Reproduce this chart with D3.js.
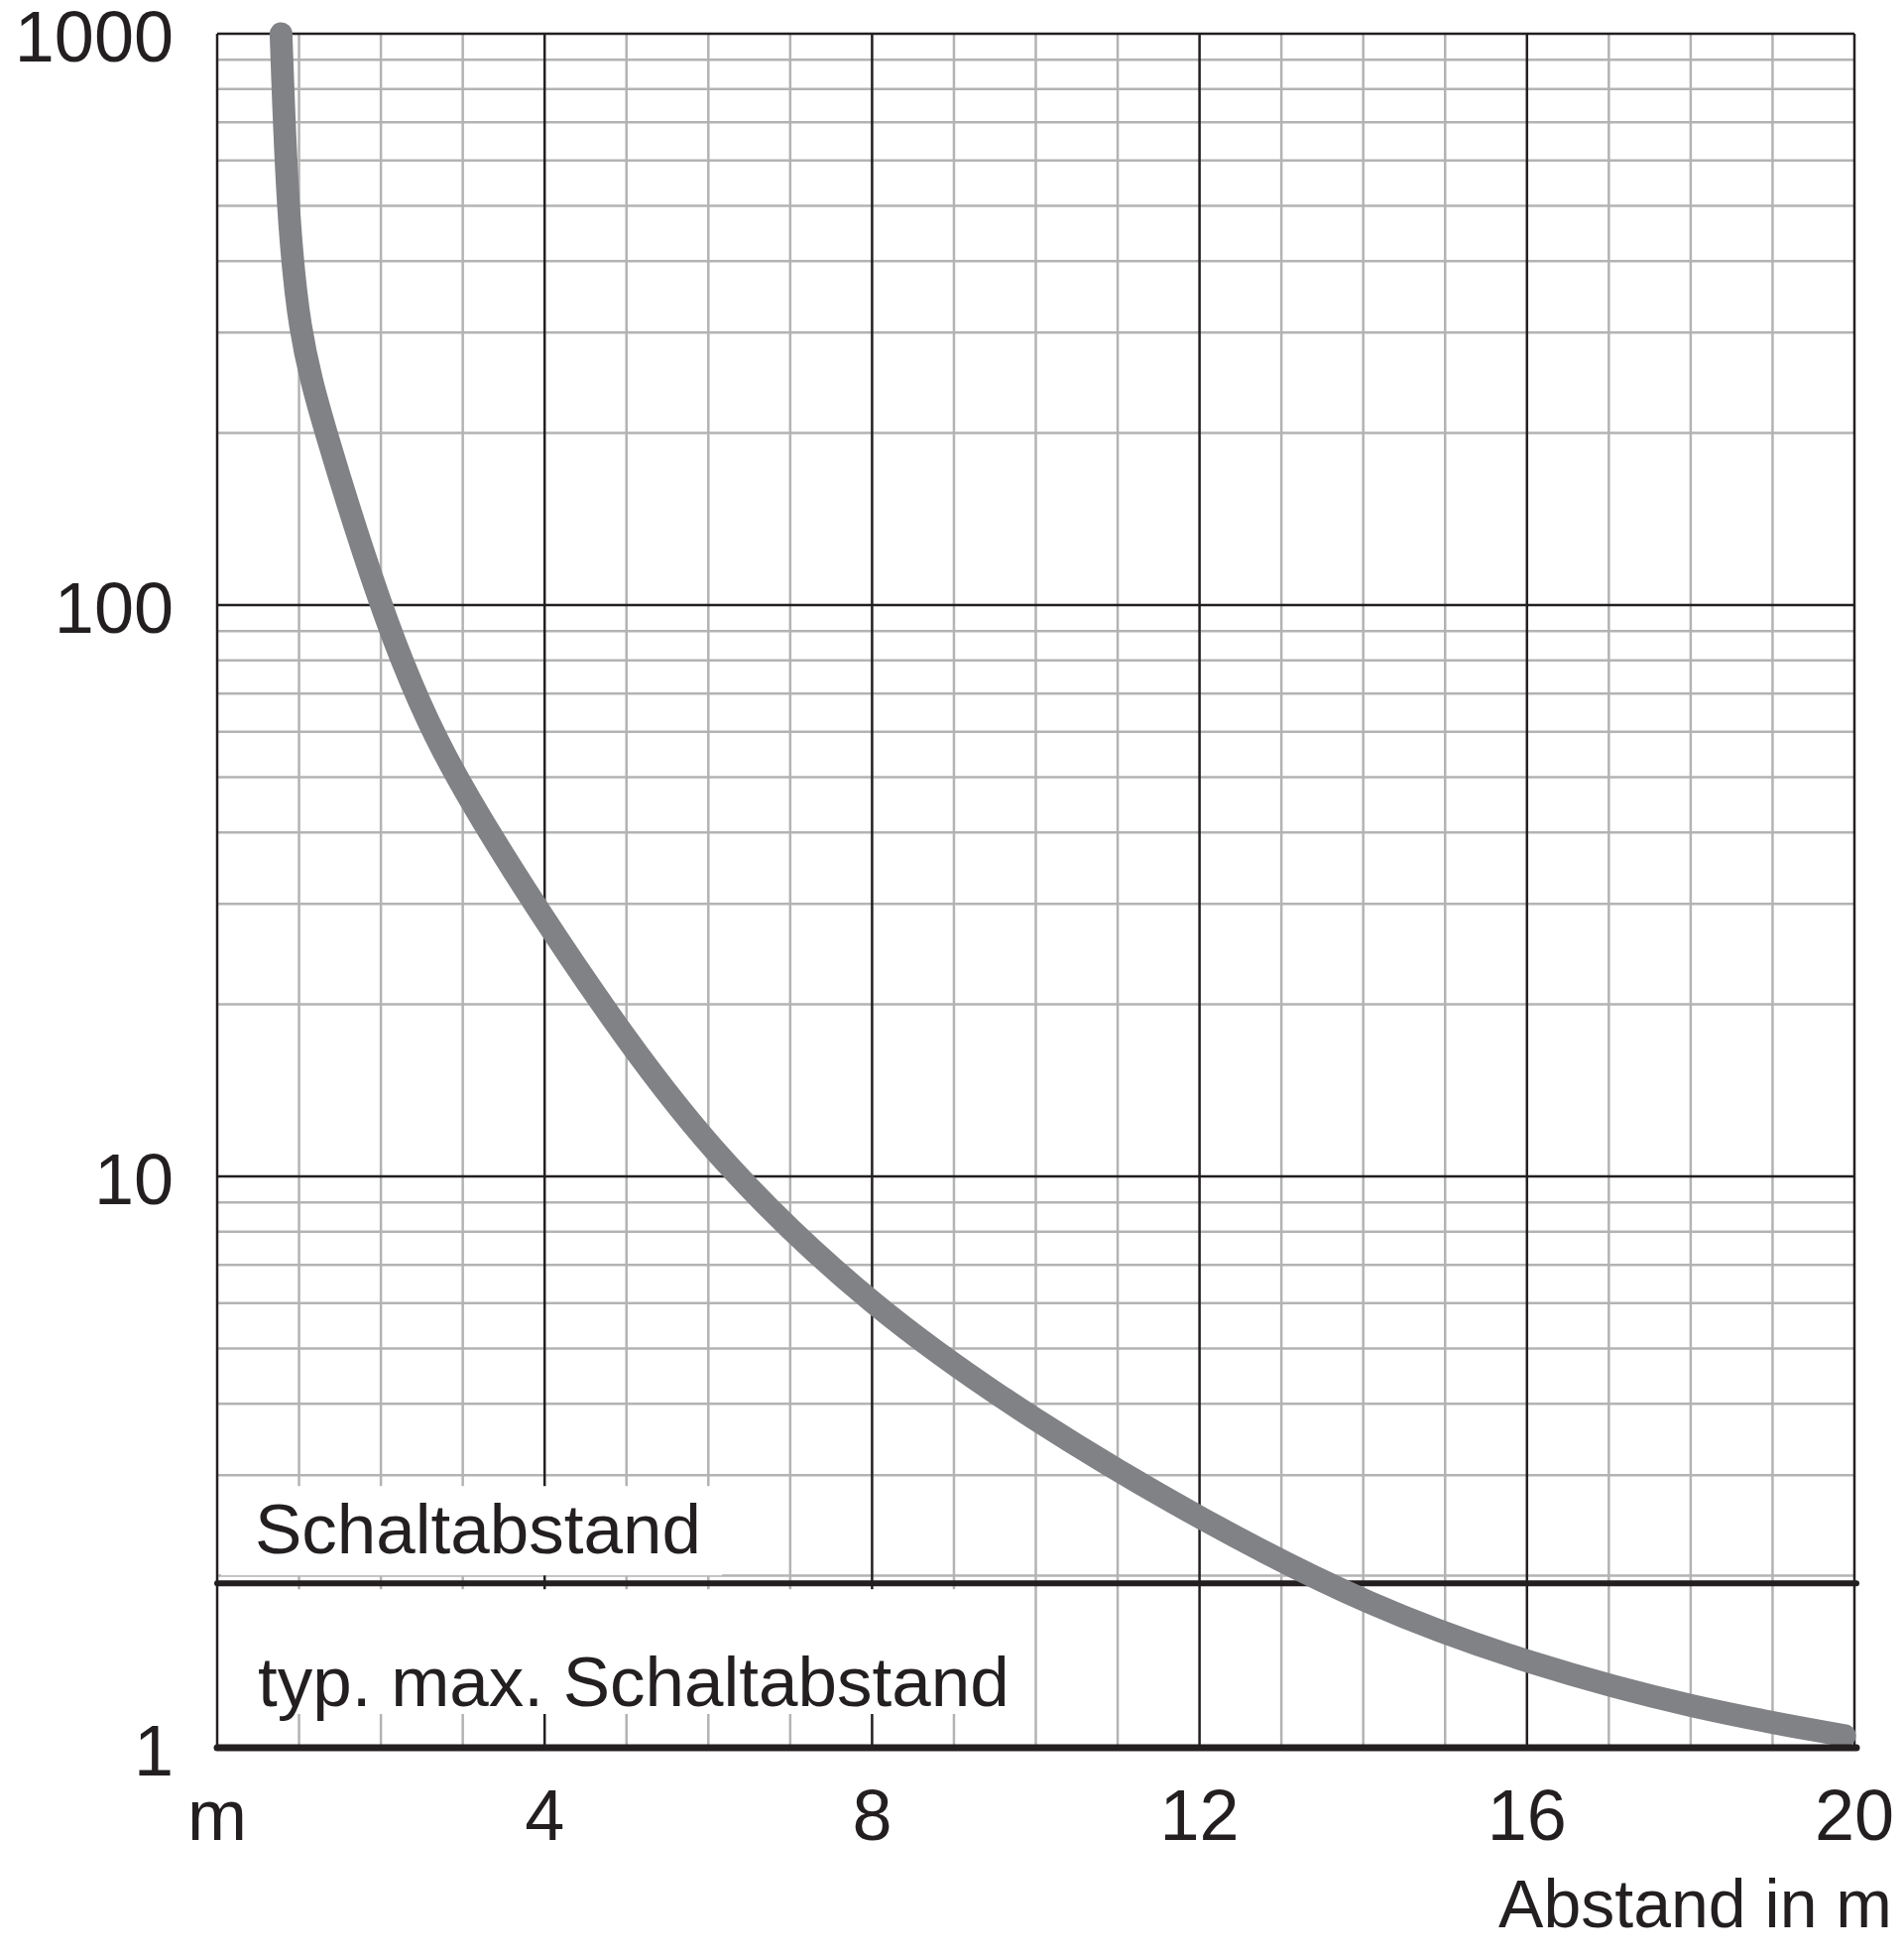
<!DOCTYPE html>
<head>
<meta charset="utf-8">
<script src="https://d3js.org/d3.v7.min.js"></script>
<style>body{margin:0;background:#fff}text{font-family:"Liberation Sans",Arial,sans-serif;fill:#231f20}</style>
</head>
<body>
<div id="chart"></div>
<script>
// data
const distX = [0.78, 0.85, 0.99, 1.3, 1.98, 2.67, 4.0, 4.95, 6.1, 8.0, 9.98, 12.02, 14.1, 16.04, 18.05, 19.88];
const ratioY = [1000, 520, 300, 205, 100, 56, 28, 17.7, 10.7, 5.87, 3.73, 2.5, 1.76, 1.40, 1.17, 1.05];
const xTicks = [4, 8, 12, 16, 20];
const yTicks = [1, 10, 100, 1000];
const switchLevel = 1.94;

const W = 1920, H = 1975;
const L = 219, R = 1870, T = 34, B = 1762;
const svg = d3.select("#chart").append("svg").attr("width", W).attr("height", H);
const x = d3.scaleLinear().domain([0, 20]).range([L, R]);
const y = d3.scaleLog().domain([1, 1000]).range([B, T]);

// minor grid
const minorX = d3.range(1, 20).filter(d => d % 4 !== 0);
svg.append("g").selectAll("line").data(minorX).join("line")
  .attr("x1", d => x(d)).attr("x2", d => x(d)).attr("y1", T).attr("y2", B)
  .attr("stroke", "#b3b3b3").attr("stroke-width", 2.5);
const minorY = [];
[1, 10, 100].forEach(dec => d3.range(2, 10).forEach(k => minorY.push(dec * k)));
svg.append("g").selectAll("line").data(minorY).join("line")
  .attr("x1", L).attr("x2", R).attr("y1", d => y(d)).attr("y2", d => y(d))
  .attr("stroke", "#b3b3b3").attr("stroke-width", 2.5);

// major grid
svg.append("g").selectAll("line").data([0].concat(xTicks)).join("line")
  .attr("x1", d => x(d)).attr("x2", d => x(d)).attr("y1", T).attr("y2", B)
  .attr("stroke", "#231f20").attr("stroke-width", 2.5);
svg.append("g").selectAll("line").data(yTicks).join("line")
  .attr("x1", L).attr("x2", R).attr("y1", d => y(d)).attr("y2", d => y(d))
  .attr("stroke", "#231f20").attr("stroke-width", 2.5);

// labels with white backgrounds
svg.append("rect").attr("x", L + 4).attr("y", y(switchLevel) + 6).attr("width", 812).attr("height", y(1) - y(switchLevel) - 40).attr("fill", "#fff");
svg.append("rect").attr("x", L + 4).attr("y", y(switchLevel) - 98).attr("width", 505).attr("height", 90).attr("fill", "#fff");
svg.append("text").attr("x", 257).attr("y", y(switchLevel) - 30).attr("font-size", 71).text("Schaltabstand");
svg.append("text").attr("x", 260).attr("y", 1720).attr("font-size", 71).text("typ. max. Schaltabstand");

// switch line
svg.append("line").attr("x1", L).attr("x2", R + 2).attr("y1", y(switchLevel)).attr("y2", y(switchLevel))
  .attr("stroke", "#231f20").attr("stroke-width", 6).attr("stroke-linecap", "round");

// curve
const line = d3.line().curve(d3.curveBasis).x(d => x(d)).y((d, i) => y(ratioY[i]));
svg.append("path").attr("d", line(distX)).attr("fill", "none")
  .attr("stroke", "#808285").attr("stroke-width", 23).attr("stroke-linecap", "round");

svg.append("line").attr("x1", L).attr("x2", R + 2).attr("y1", B).attr("y2", B)
  .attr("stroke", "#231f20").attr("stroke-width", 7).attr("stroke-linecap", "round");

// tick labels
svg.append("g").selectAll("text").data(yTicks).join("text")
  .attr("x", 175).attr("y", d => y(d) + 28).attr("text-anchor", "end").attr("font-size", 72).text(d => d);
svg.append("g").selectAll("text").data(["m"].concat(xTicks)).join("text")
  .attr("x", (d, i) => x(i === 0 ? 0 : d)).attr("y", 1855).attr("text-anchor", "middle").attr("font-size", 72).text(d => d);
svg.append("text").attr("x", 1908).attr("y", 1943).attr("text-anchor", "end").attr("font-size", 68).text("Abstand in m");
</script>
</body>
